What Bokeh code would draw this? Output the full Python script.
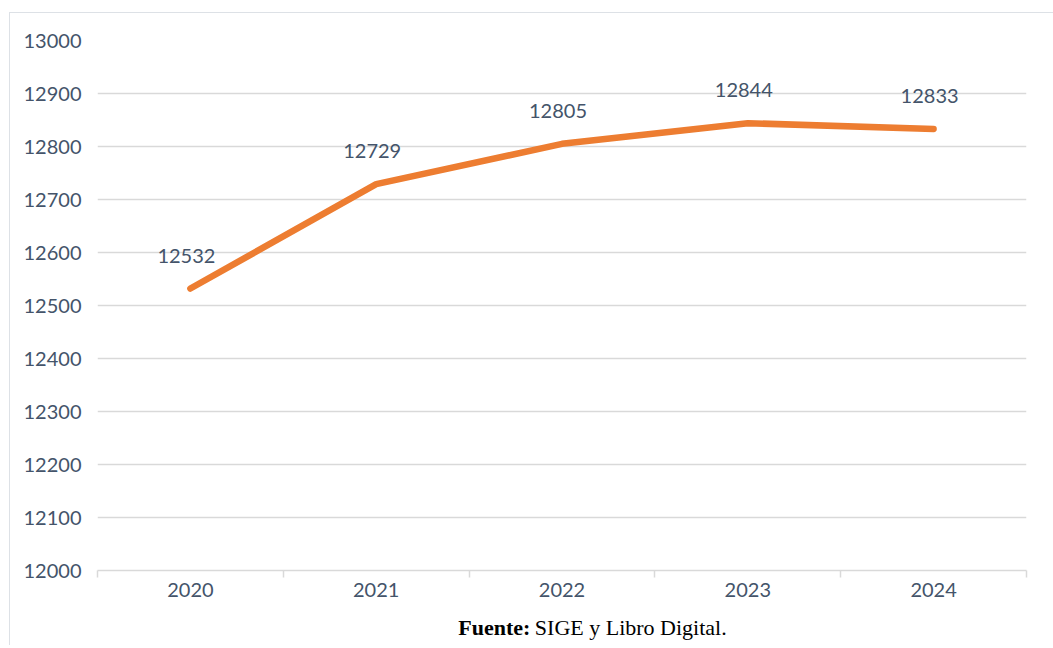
from bokeh.plotting import figure
from bokeh.models import FixedTicker, Range1d
from bokeh.layouts import column
from bokeh.core.properties import value
from bokeh.embed import file_html
from bokeh.resources import INLINE

years = [2020, 2021, 2022, 2023, 2024]
values = [12532, 12729, 12805, 12844, 12833]
y_ticks = [12000, 12100, 12200, 12300, 12400, 12500, 12600, 12700, 12800, 12900, 13000]
footer_bold = "Fuente:"
footer_rest = "SIGE y Libro Digital."

TEXT = "#44546A"
GRID = "#D9D9D9"
FONT = "Lato"

p = figure(width=1043, height=596, output_backend="svg", toolbar_location=None,
           x_range=Range1d(years[0] - 0.5, years[-1] + 0.5),
           y_range=Range1d(y_ticks[0], y_ticks[-1]),
           min_border_left=87, min_border_right=27, min_border_top=27, min_border_bottom=39)
p.outline_line_color = None
p.background_fill_color = "white"
p.border_fill_color = "white"

# x axis
boundaries = [y - 0.5 for y in years] + [years[-1] + 0.5]
p.xaxis.ticker = FixedTicker(ticks=years, minor_ticks=boundaries)
p.xaxis.major_label_overrides = {y: str(y) for y in years}
p.xaxis.axis_line_color = GRID
p.xaxis.axis_line_width = 1.5
p.xaxis.major_tick_line_color = None
p.xaxis.minor_tick_line_color = GRID
p.xaxis.minor_tick_line_width = 1.5
p.xaxis.minor_tick_out = 7
p.xaxis.minor_tick_in = 0
p.xaxis.major_label_text_font = FONT
p.xaxis.major_label_text_font_size = "20px"
p.xaxis.major_label_text_color = TEXT
p.xaxis.major_label_standoff = 5

# y axis
p.yaxis.ticker = FixedTicker(ticks=y_ticks)
p.yaxis.axis_line_color = None
p.yaxis.major_tick_line_color = None
p.yaxis.minor_tick_line_color = None
p.yaxis.major_label_text_font = FONT
p.yaxis.major_label_text_font_size = "20px"
p.yaxis.major_label_text_color = TEXT
p.yaxis.major_label_standoff = 10

p.xgrid.grid_line_color = None
p.ygrid.grid_line_color = GRID
p.ygrid.grid_line_width = 1.5

p.line(years, values, line_color="#ED7D31", line_width=6.5, line_cap="round", line_join="round")

p.text(x=years, y=values, text=[str(v) for v in values],
       text_font=value(FONT), text_font_size="20px", text_color=TEXT,
       text_align="center", text_baseline="middle", x_offset=-4, y_offset=-33)

# footer strip (a plain figure holding the source note)
f = figure(width=1043, height=36, output_backend="svg", toolbar_location=None,
           x_range=Range1d(0, 1043), y_range=Range1d(0, 36), min_border=0)
f.axis.visible = False
f.grid.grid_line_color = None
f.outline_line_color = None
f.border_fill_color = "white"
f.text(x=[486], y=[18], text=[footer_bold], text_font=value("Liberation Serif"),
       text_font_style="bold", text_font_size="22px", text_color="black",
       text_align="right", text_baseline="middle")
f.text(x=[491], y=[18], text=[footer_rest], text_font=value("Liberation Serif"),
       text_font_size="22px", text_color="black",
       text_align="left", text_baseline="middle")

layout = column(p, f, spacing=0, margin=(12, 0, 0, 9),
                styles={"border-left": "1px solid #DDE1E6", "border-top": "1px solid #DDE1E6",
                        "background-color": "white"})

open("out.html", "w").write(file_html(layout, INLINE))
